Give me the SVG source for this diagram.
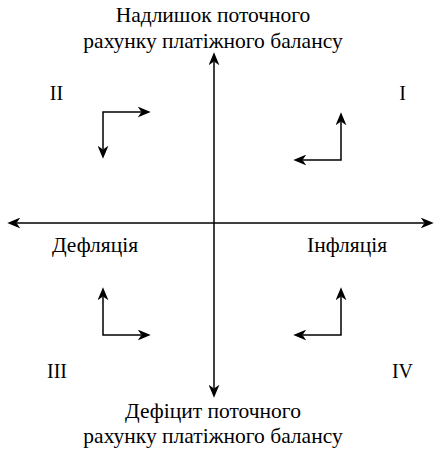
<svg xmlns="http://www.w3.org/2000/svg" width="435" height="452" viewBox="0 0 435 452">
<style>
text{font-family:"Liberation Serif","Times New Roman",serif;font-size:21.5px;fill:#000;text-anchor:middle}
.num{font-size:20px}
.ln{fill:none;stroke:#000;stroke-width:1.5;marker-start:url(#ah);marker-end:url(#ah)}
</style>
<defs>
<marker id="ah" markerUnits="userSpaceOnUse" markerWidth="13" markerHeight="11" viewBox="0 0 12 10" refX="3.5" refY="5" orient="auto-start-reverse">
<path d="M0,0 L12,5 L0,10 L3.5,5 Z" fill="#000"/>
</marker>
</defs>
<rect width="435" height="452" fill="#fff"/>
<g id="connectors">
<path class="ln" d="M214,61.5 L214,388.5"/>
<path class="ln" d="M16.5,223 L424.5,223"/>
<path class="ln" d="M302.5,160 L341,160 L341,121.5"/>
<path class="ln" d="M103,149.5 L103,112 L141.5,112"/>
<path class="ln" d="M103,296.5 L103,335 L141.5,335"/>
<path class="ln" d="M302.5,335 L341,335 L341,296.5"/>
</g>
<g id="top-label"><text x="213" y="22">Надлишок поточного</text><text x="213" y="48">рахунку платіжного балансу</text></g>
<g id="bottom-label"><text x="213" y="418">Дефіцит поточного</text><text x="213" y="443">рахунку платіжного балансу</text></g>
<g id="deflation"><text x="95" y="252">Дефляція</text></g>
<g id="inflation"><text x="347" y="252">Інфляція</text></g>
<g id="q1"><text class="num" x="402.5" y="100">I</text></g>
<g id="q2"><text class="num" x="56.5" y="100">II</text></g>
<g id="q3"><text class="num" x="57" y="378">III</text></g>
<g id="q4"><text class="num" x="402.5" y="378">IV</text></g>
</svg>
